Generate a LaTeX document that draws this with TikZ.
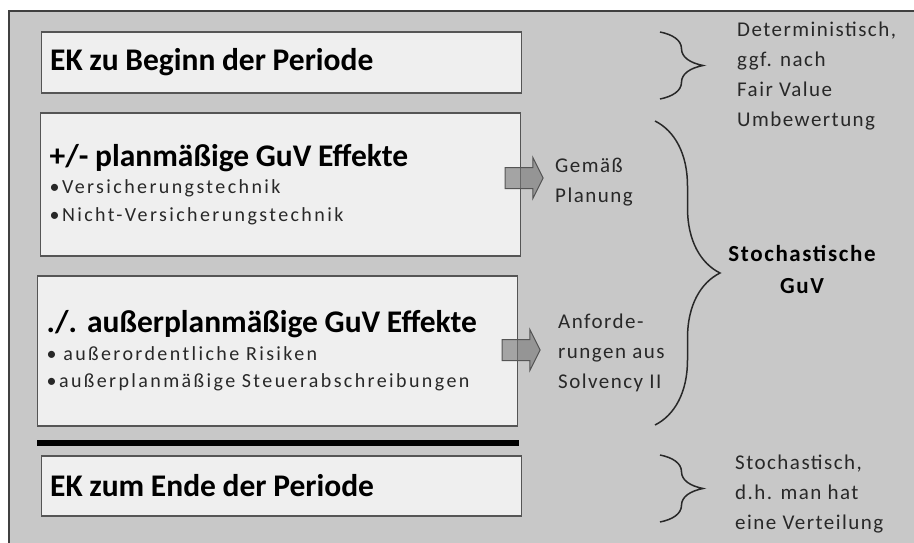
\documentclass[tikz,border=0pt]{standalone}
\usepackage{fontspec}
\setmainfont{Carlito}
\newfontfamily\widefont[LetterSpace=12]{Carlito}
\newfontfamily\notefont[LetterSpace=7]{Carlito}
\usetikzlibrary{positioning, shapes.arrows, decorations.pathreplacing}
\definecolor{panelgray}{RGB}{200,200,200}
\definecolor{boxfill}{RGB}{239,239,239}
\definecolor{boxline}{RGB}{85,85,85}
\definecolor{inkgray}{RGB}{40,40,40}

\begin{document}
\begin{tikzpicture}[x=1pt, y=-1pt,
every node/.style={
    inner sep=0pt,
    text=inkgray,
    font=\widefont\fontsize{20}{27.5}\selectfont
},
stagebox/.style={
    draw=boxline,
    line width=1.4pt,
    fill=boxfill,
    anchor=west,
    align=left,
    text width=462pt,
    inner xsep=9pt,
    text=black
},
sidetext/.style={anchor=west, align=left, font=\notefont\fontsize{21}{30}\selectfont},
blockarrow/.style={
    single arrow,
    draw=boxline,
    line width=1pt,
    fill=black!55,
    fill opacity=0.6,
    draw opacity=1,
    inner sep=10pt,
    single arrow head extend=10pt,
    single arrow tip angle=127,
    minimum height=38pt
},
curly/.style={draw=inkgray, line width=1.5pt, decorate}
]

  % panel
  \useasboundingbox (0,0) rectangle (914,543);
  \clip (0,0) rectangle (914,543);
  \fill[white] (0,0) rectangle (914,543);
  \fill[panelgray] (9,11) rectangle (914,543);
  \draw[black!75, line width=1.5pt] (9,543) -- (9,11) -- (914,11);

  % stages
  \node (begin) [stagebox, minimum height=61pt] at (40.5,62.5)
    {{\rmfamily\fontsize{31.5}{32}\selectfont\bfseries EK zu Beginn der Periode}};
  \node (planned) [stagebox, minimum height=143pt] at (40,184.5)
    {{\rmfamily\fontsize{31.5}{28}\selectfont\bfseries +/- planmäßige GuV Effekte}\\
     \textcolor{inkgray}{•Versicherungstechnik}\\
     \textcolor{inkgray}{•Nicht-Versicherungstechnik}};
  \node (unplanned) [stagebox, minimum height=150pt] at (37,351)
    {{\rmfamily\fontsize{31.5}{28}\selectfont\bfseries ./. außerplanmäßige GuV Effekte}\\
     \textcolor{inkgray}{• außerordentliche Risiken}\\
     \textcolor{inkgray}{•außerplanmäßige Steuerabschreibungen}};
  \draw[line width=6pt] (37,443) -- (519,443);
  \node (final) [stagebox, minimum height=60pt] at (40.5,486)
    {{\rmfamily\fontsize{31.5}{32}\selectfont\bfseries EK zum Ende der Periode}};

  % block arrows
  \node (planarrow) [blockarrow] at (521.5,178) {};
  \node (solvarrow) [blockarrow] at (518.5,350) {};
  \node (plannote) [sidetext] at (555,182) {Gemäß\\Planung};
  \node (solvnote) [sidetext] at (558,353) {Anforde-\\rungen aus\\Solvency II};

  % braces
  \coordinate (detTop) at (660,32);
  \coordinate (detBot) at (660,99);
  \coordinate (stoTop) at (655,121);
  \coordinate (stoBot) at (655,425);
  \coordinate (endTop) at (660,455);
  \coordinate (endBot) at (660,522);
  \draw[curly, decoration={brace, amplitude=43pt}] (detTop) -- (detBot);
  \draw[curly, decoration={brace, amplitude=65pt}] (stoTop) -- (stoBot);
  \draw[curly, decoration={brace, amplitude=43pt}] (endTop) -- (endBot);

  \node (detnote) [sidetext] at (737,76)
    {Deterministisch,\\ggf. nach\\Fair Value\\Umbewertung};
  \node (guvnote) [align=center, text=black, font=\notefont\fontsize{23}{32}\selectfont\bfseries]
    at (802,269) {Stochastische\\GuV};
  \node (endnote) [sidetext] at (735,494)
    {Stochastisch,\\d.h. man hat\\eine Verteilung};

\end{tikzpicture}
\end{document}
